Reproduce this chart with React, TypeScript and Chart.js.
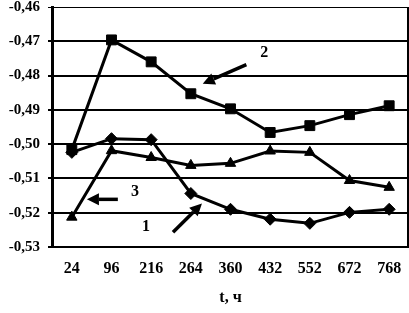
import React, { useEffect, useRef } from "react";
import { Chart, registerables } from "chart.js";

Chart.register(...registerables);

const categories = ["24", "96", "216", "264", "360", "432", "552", "672", "768"];
const series1 = [-0.5024, -0.4984, -0.4987, -0.5144, -0.519, -0.5219, -0.5231, -0.5199, -0.519];
const series2 = [-0.5016, -0.4696, -0.476, -0.4853, -0.4897, -0.4966, -0.4946, -0.4914, -0.4888];
const series3 = [-0.5213, -0.5019, -0.5039, -0.5062, -0.5056, -0.502, -0.5024, -0.5106, -0.5126];
const yMin = -0.53;
const yMax = -0.46;
const yStep = 0.01;
const xTitle = "t, ч";

// annotation labels & arrows in data coordinates (category index, value)
const annLabels = [
  { text: "2", x: 4.85, y: -0.4734 },
  { text: "3", x: 1.59, y: -0.5138 },
  { text: "1", x: 1.87, y: -0.524 },
];
const annArrows = [
  { x1: 4.4, y1: -0.4768, x2: 3.3, y2: -0.4824 },
  { x1: 1.16, y1: -0.5161, x2: 0.38, y2: -0.5161 },
  { x1: 2.55, y1: -0.5257, x2: 3.28, y2: -0.5173 },
];

const FONT = "'Liberation Serif', 'Times New Roman', serif";

const annotationPlugin = {
  id: "annotations",
  afterDraw(chart: any) {
    const { ctx, chartArea, scales } = chart;
    const xs = scales.x;
    const ys = scales.y;
    ctx.save();
    // right border
    ctx.strokeStyle = "#000";
    ctx.lineWidth = 2;
    ctx.beginPath();
    ctx.moveTo(chartArea.right - 1, chartArea.top);
    ctx.lineTo(chartArea.right - 1, chartArea.bottom);
    ctx.stroke();

    ctx.fillStyle = "#000";
    ctx.font = `bold 16px ${FONT}`;
    ctx.textAlign = "center";
    ctx.textBaseline = "middle";
    for (const l of annLabels) {
      ctx.fillText(l.text, xs.getPixelForValue(l.x), ys.getPixelForValue(l.y));
    }
    for (const a of annArrows) {
      const x1 = xs.getPixelForValue(a.x1);
      const y1 = ys.getPixelForValue(a.y1);
      const x2 = xs.getPixelForValue(a.x2);
      const y2 = ys.getPixelForValue(a.y2);
      const ang = Math.atan2(y2 - y1, x2 - x1);
      const hl = 12;
      const hw = 6;
      const bx = x2 - hl * Math.cos(ang);
      const by = y2 - hl * Math.sin(ang);
      ctx.lineWidth = 3.5;
      ctx.beginPath();
      ctx.moveTo(x1, y1);
      ctx.lineTo(bx, by);
      ctx.stroke();
      ctx.beginPath();
      ctx.moveTo(x2, y2);
      ctx.lineTo(bx + hw * Math.sin(ang), by - hw * Math.cos(ang));
      ctx.lineTo(bx - hw * Math.sin(ang), by + hw * Math.cos(ang));
      ctx.closePath();
      ctx.fill();
    }
    ctx.restore();
  },
};

export default function App() {
  const ref = useRef<HTMLCanvasElement | null>(null);
  useEffect(() => {
    if (!ref.current) return;
    const mk = (data: number[], style: string, r: number) => ({
      data,
      borderColor: "#000",
      backgroundColor: "#000",
      borderWidth: 3,
      pointStyle: style,
      pointRadius: r,
      pointBorderWidth: 1,
      pointBackgroundColor: "#000",
      pointBorderColor: "#000",
      tension: 0,
    });
    const chart = new Chart(ref.current, {
      type: "line",
      data: {
        labels: categories,
        datasets: [
          { label: "1", ...mk(series1, "rectRot", 6) },
          { label: "2", ...mk(series2, "rect", 7) },
          { label: "3", ...mk(series3, "triangle", 6) },
        ],
      },
      options: {
        animation: false,
        responsive: false,
        maintainAspectRatio: false,
        layout: { autoPadding: false, padding: { top: 7, right: 0, left: 0, bottom: 6 } },
        plugins: { legend: { display: false }, tooltip: { enabled: false } },
        scales: {
          x: {
            offset: true,
            grid: { display: false, drawTicks: false },
            border: { display: true, color: "#000", width: 2 },
            ticks: {
              color: "#000",
              font: { family: FONT, size: 16, weight: "bold" },
              padding: 12,
              maxRotation: 0,
              autoSkip: false,
            },
            title: {
              display: true,
              text: xTitle,
              color: "#000",
              font: { family: FONT, size: 16, weight: "bold" },
              padding: { top: 8, bottom: 0 },
            },
            afterFit: (s: any) => {
              s.height = 60;
              s.paddingLeft = 0;
              s.paddingRight = 0;
            },
          },
          y: {
            min: yMin,
            max: yMax,
            grid: {
              color: "#000",
              lineWidth: (c: any) => (c.tick && Math.abs(c.tick.value - yMax) < 1e-6 ? 1 : 2),
              drawTicks: true,
              tickLength: 4,
            },
            border: { display: true, color: "#000", width: 3 },
            ticks: {
              stepSize: yStep,
              color: "#000",
              font: { family: FONT, size: 15, weight: "bold" },
              padding: 8,
              callback: (v: any) => Number(v).toFixed(2).replace(".", ","),
            },
            afterFit: (s: any) => {
              s.width = 52;
              s.paddingTop = 0;
              s.paddingBottom = 0;
            },
          },
        },
      },
      plugins: [annotationPlugin],
    });
    return () => chart.destroy();
  }, []);
  return (
    <div style={{ position: "absolute", left: 0, top: 0, width: 409, height: 313, background: "#fff" }}>
      <canvas ref={ref} width={409} height={313} style={{ width: 409, height: 313 }} />
    </div>
  );
}
